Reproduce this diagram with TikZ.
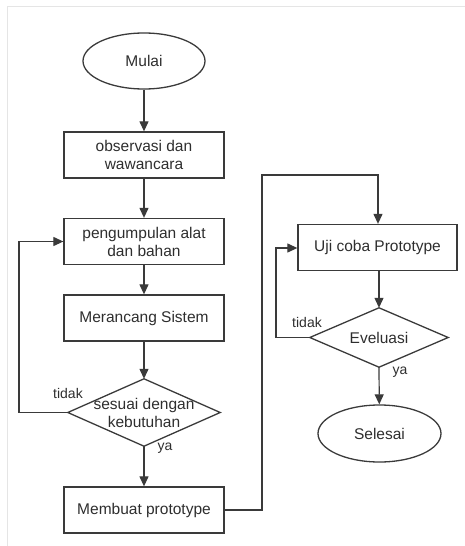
\documentclass[tikz,border=0pt]{standalone}
\usepackage{fontspec}
\setmainfont{Liberation Sans}
\usetikzlibrary{shapes.geometric,arrows.meta}
\definecolor{ln}{HTML}{3A3A3A}
\definecolor{tx}{HTML}{2E2E2E}
\begin{document}
\begin{tikzpicture}[x=1pt,y=-1pt,
  every node/.style={font=\fontsize{15.5}{18}\selectfont, text=tx},
  procbox/.style={draw=ln, line width=1.3pt, rectangle, minimum width=160pt, minimum height=46pt, inner sep=0pt, align=center},
  termnode/.style={draw=ln, line width=1.3pt, ellipse, minimum width=122pt, minimum height=56pt, inner sep=0pt},
  decnode/.style={rectangle, inner sep=0pt, align=center},
  decline/.style={draw=ln, line width=1.3pt, line join=miter},
  flow/.style={draw=ln, line width=1.2pt, -{Triangle[length=10pt,width=9pt]}},
  lbl/.style={font=\fontsize{14}{16}\selectfont}]
\useasboundingbox (0,0) rectangle (465,546);
\draw[black!10, line width=1pt] (7,546) -- (7,6) -- (465,6);

\node[termnode] (mulai) at (144,61) {Mulai};
\node[procbox] (obs) at (144,155) {observasi dan\\wawancara};
\node[procbox] (kumpul) at (144,241.5) {pengumpulan alat\\dan bahan};
\node[procbox] (rancang) at (144,318) {Merancang Sistem};
\node[decnode, minimum width=152pt, minimum height=67pt] (sesuai) at (144,412.5) {sesuai dengan\\kebutuhan};
\draw[decline] (sesuai.north) -- (sesuai.east) -- (sesuai.south) -- (sesuai.west) -- cycle;
\node[procbox] (buat) at (144,510) {Membuat prototype};

\node[procbox, minimum width=159pt] (uji) at (377.5,247.5) {Uji coba Prototype};
\node[decnode, minimum width=138pt, minimum height=59pt] (eval) at (379,337.5) {Eveluasi};
\draw[decline] (eval.north) -- (eval.east) -- (eval.south) -- (eval.west) -- cycle;
\node[termnode, minimum width=123pt, minimum height=57pt] (selesai) at (379.5,433.5) {Selesai};

\coordinate (c1) at (19,412.5);
\coordinate (c2) at (19,241.5);
\coordinate (c3) at (262,510);
\coordinate (c4) at (262,175);
\coordinate (c5) at (378,175);
\coordinate (c6) at (276,337.5);
\coordinate (c7) at (276,248);

\draw[flow] (mulai) -- (obs);
\draw[flow] (obs) -- (kumpul);
\draw[flow] (kumpul) -- (rancang);
\draw[flow] (rancang) -- (sesuai.north);
\draw[flow] (sesuai.south) -- (buat);
\draw[flow] (sesuai.west) -- (c1) -- (c2) -- (kumpul.west);
\draw[flow] (buat.east) -- (c3) -- (c4) -- (c5) -- (uji.north -| c5);
\draw[flow] (uji.south -| eval.north) -- (eval.north);
\draw[flow] (eval.west) -- (c6) -- (c7) -- (uji.west |- c7);
\draw[flow] (eval.south) -- (selesai);

\node[lbl] (t1) at (68,393) {tidak};
\node[lbl] (y1) at (165,448) {ya};
\node[lbl] (t2) at (307,322) {tidak};
\node[lbl] (y2) at (400,372) {ya};
\end{tikzpicture}
\end{document}
